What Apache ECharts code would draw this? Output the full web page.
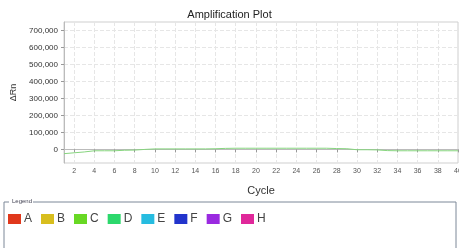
<!DOCTYPE html>
<html>
<head>
<meta charset="utf-8">
<script src="https://cdn.jsdelivr.net/npm/echarts@6/dist/echarts.min.js"></script>
<style>
  html, body { margin: 0; padding: 0; background: #fff; }
  #chart { width: 459px; height: 248px; }
</style>
</head>
<body>
<div id="chart"></div>
<script>
const cycles = [];
for (let c = 1; c <= 40; c++) cycles.push(String(c));

// delta Rn, cycle 1..40
const deltaRn = [
    -25000, -20000, -15000, -8000, -8000, -8000, -5000, -4000, 0, 3000,
    3000, 3000, 3000, 3000, 3000, 4000, 6000, 7000, 7000, 7000,
    7000, 7000, 7000, 7000, 7000, 7000, 7000, 5000, 4000, -2000,
    -2000, -3000, -7000, -8000, -8000, -8000, -8000, -8000, -8000, -8000
];

const wellNames = ['A', 'B', 'C', 'D', 'E', 'F', 'G', 'H'];
const wellColors = ['#e0381c', '#d8be1e', '#68d824', '#2cd86c', '#26bce0', '#2234cc', '#9a2ae0', '#e0289a'];
const yTicks = [0, 100000, 200000, 300000, 400000, 500000, 600000, 700000];

window.onload = () => {
    const chart = echarts.init(document.getElementById('chart'), null, { renderer: 'canvas' });

    const series = wellNames.map((name, i) => ({
        name: name,
        type: 'line',
        data: name === 'C' ? deltaRn : [],
        symbol: 'none',
        silent: true,
        itemStyle: { color: wellColors[i] },
        lineStyle: { color: '#86d47e', width: 1 }
    }));

    const opt = {
        animation: false,
        title: {
            text: 'Amplification Plot',
            left: 'center',
            top: 4,
            textStyle: { fontFamily: 'Liberation Sans', fontSize: 11, fontWeight: 'normal', color: '#222' }
        },
        grid: {
            left: 64, right: 1, top: 22, bottom: 85,
            outerBoundsMode: 'none',
            show: true, borderColor: '#cfcfcf', borderWidth: 1
        },
        xAxis: {
            type: 'category',
            data: cycles,
            boundaryGap: false,
            name: 'Cycle',
            nameLocation: 'middle',
            nameGap: 22,
            nameTextStyle: { fontFamily: 'Liberation Sans', fontSize: 11, color: '#333' },
            axisLine: { lineStyle: { color: '#bbb' } },
            axisTick: {
                length: 3,
                interval: (i, v) => Number(v) % 2 === 0,
                lineStyle: { color: '#999' }
            },
            axisLabel: {
                interval: (i, v) => Number(v) % 2 === 0,
                fontFamily: 'Liberation Sans', fontSize: 7, color: '#555', margin: 5
            },
            splitLine: {
                show: true,
                interval: (i, v) => Number(v) % 2 === 0,
                lineStyle: { color: '#e6e6e6', type: 'dashed', width: 1 }
            }
        },
        yAxis: {
            type: 'value',
            min: -80000,
            max: 750000,
            name: 'ΔRn',
            nameLocation: 'middle',
            nameGap: 46,
            nameMoveOverlap: false,
            nameTextStyle: { fontFamily: 'Liberation Sans', fontSize: 9, color: '#333' },
            axisLine: { show: true, lineStyle: { color: '#bbb' } },
            axisTick: { show: true, length: 3, customValues: yTicks, lineStyle: { color: '#999' } },
            axisLabel: {
                customValues: yTicks,
                fontFamily: 'Liberation Sans', fontSize: 8, color: '#333', margin: 6,
                formatter: v => v.toLocaleString('en')
            },
            splitLine: {
                show: true,
                lineStyle: { color: '#e6e6e6', type: 'dashed', width: 1 }
            }
        },
        legend: {
            left: 3,
            top: 208,
            itemWidth: 13,
            itemHeight: 10,
            itemGap: 9,
            icon: 'rect',
            selectedMode: false,
            textStyle: { fontFamily: 'Liberation Sans', fontSize: 12, color: '#444', padding: [0, 0, 0, -2] },
            data: wellNames.map((name, i) => ({ name: name, itemStyle: { color: wellColors[i] } }))
        },
        graphic: [
            {
                type: 'polyline',
                silent: true,
                shape: { points: [[4, 248], [4, 202], [9, 202]] },
                style: { stroke: '#7d8898', lineWidth: 1, fill: null }
            },
            {
                type: 'polyline',
                silent: true,
                shape: { points: [[33, 202], [456, 202], [456, 248]] },
                style: { stroke: '#7d8898', lineWidth: 1, fill: null }
            },
            {
                type: 'text',
                silent: true,
                left: 12,
                top: 198,
                style: { text: 'Legend', font: '6px "Liberation Sans"', fill: '#445' }
            }
        ],
        series: series
    };

    chart.setOption(opt);
};
</script>
</body>
</html>
